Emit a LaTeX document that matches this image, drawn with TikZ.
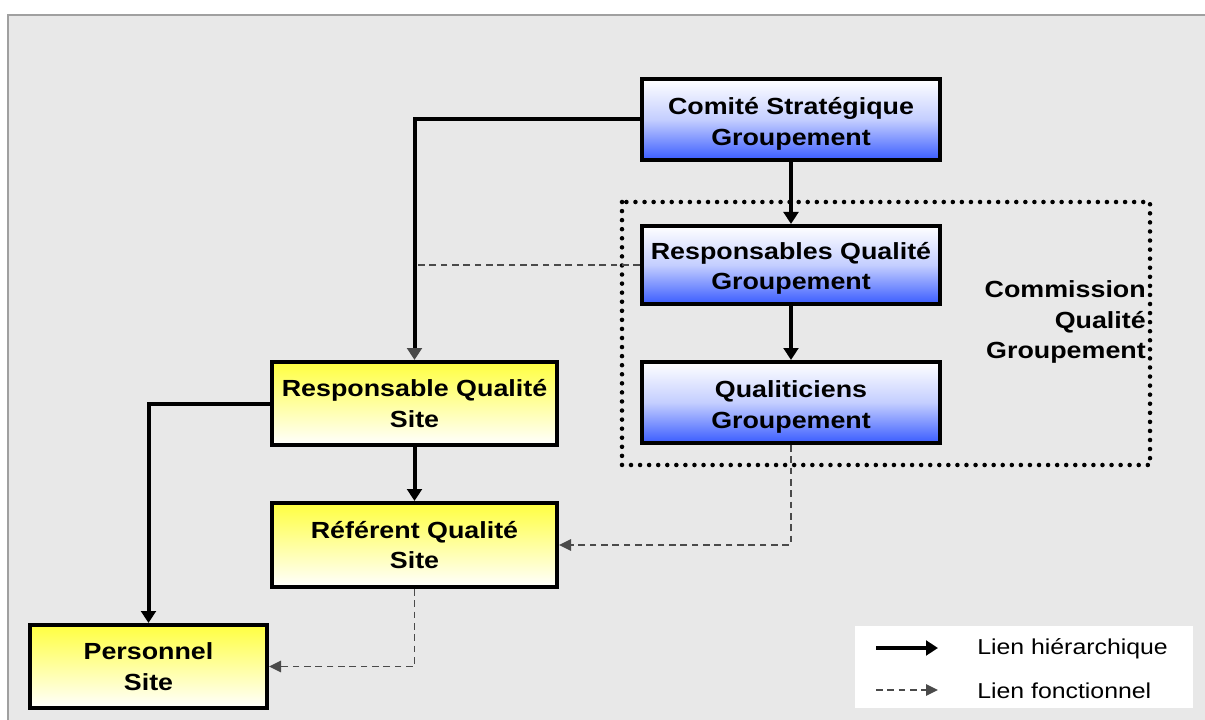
\documentclass[tikz,border=0pt]{standalone}
\usepackage{fontspec}
\setmainfont{Liberation Sans}[FakeStretch=1.15]
\usetikzlibrary{arrows.meta,calc}
\definecolor{bgc}{HTML}{E8E8E8}
\definecolor{frm}{HTML}{A0A0A0}
\definecolor{blu}{RGB}{58,92,255}
\definecolor{yel}{RGB}{255,255,64}
\definecolor{dsh}{HTML}{4A4A4A}
\tikzset{
  boxtext/.style={font=\fontsize{17.5}{23}\selectfont\bfseries, align=center, inner sep=0pt},
  bluebox/.style={draw=black, line width=3pt, top color=white, bottom color=blu, middle color=blu!30!white},
  yelbox/.style={boxtext, draw=black, line width=3pt, top color=yel, bottom color=white},
  hier/.style={line width=3pt, -{Triangle[length=9pt,width=11pt]}},
  funcline/.style={draw=dsh, line width=1.4pt, dash pattern=on 5pt off 3.5pt},
  func/.style={funcline, -{Triangle[length=9pt,width=8.5pt,color=dsh]}},
  legtext/.style={font=\fontsize{16.2}{18}\selectfont, anchor=west, inner sep=0pt}
}
\begin{document}
\begin{tikzpicture}[x=0.75pt,y=-0.75pt]
\useasboundingbox (0,0) rectangle (1205,720);
\clip (0,0) rectangle (1205,720);
\fill[white] (0,0) rectangle (1205,720);
\draw[draw=frm, fill=bgc, line width=1.5pt] (8,15) rectangle (1230,740);

% commission dotted frame
\draw[line width=3.4pt, dash pattern=on 0pt off 6.8pt, line cap=round] (622,202) rectangle (1150,465);
\node[boxtext, align=right, anchor=east] (comm) at (1146,322) {Commission\\Qualité\\Groupement};

% boxes
\node[bluebox, minimum width=223.5pt, minimum height=60.75pt] (comite) at (791,119.5) {};
\node[boxtext] (comite-t) at ([yshift=-3.5pt]comite.center) {Comité Stratégique\\Groupement};
\node[bluebox, minimum width=223.5pt, minimum height=58.5pt] (respg) at (791,265) {};
\node[boxtext] (respg-t) at ([yshift=-2.5pt]respg.center) {Responsables Qualité\\Groupement};
\node[bluebox, minimum width=223.5pt, minimum height=60.75pt] (qualg) at (791,402.5) {};
\node[boxtext] (qualg-t) at ([yshift=-3.5pt]qualg.center) {Qualiticiens\\Groupement};
\node[yelbox, minimum width=213.75pt, minimum height=62.25pt] (resps) at (414.5,403.5) {Responsable Qualité\\Site};
\node[yelbox, minimum width=213.75pt, minimum height=63pt] (refs) at (414.5,545) {Référent Qualité\\Site};
\node[yelbox, minimum width=177.75pt, minimum height=62.25pt] (pers) at (148.5,666.5) {Personnel\\Site};

% functional links
\draw[funcline] (respg.west) -- (respg.west -| resps.north);
\draw[func] (qualg.south) |- (refs.east);
\draw[func] (refs.south) |- (pers.east);

% hierarchical links
\draw[hier] (comite.south) -- (respg.north);
\draw[hier] (respg.south) -- (qualg.north);
\draw[line width=3pt, -{Triangle[length=9pt,width=11pt,color=dsh]}] (comite.west) -| (resps.north);
\draw[hier] (resps.south) -- (refs.north);
\draw[hier] (resps.west) -| (pers.north);

% legend
\fill[white] (855,626) rectangle (1193,708);
\coordinate (l1a) at (876,648);
\coordinate (l1b) at (938,648);
\coordinate (l2a) at (876,690);
\coordinate (l2b) at (938,690);
\draw[hier] (l1a) -- (l1b);
\draw[func] (l2a) -- (l2b);
\node[legtext] (lt1) at (977,649) {Lien hiérarchique};
\node[legtext] (lt2) at (977,691) {Lien fonctionnel};
\end{tikzpicture}
\end{document}
